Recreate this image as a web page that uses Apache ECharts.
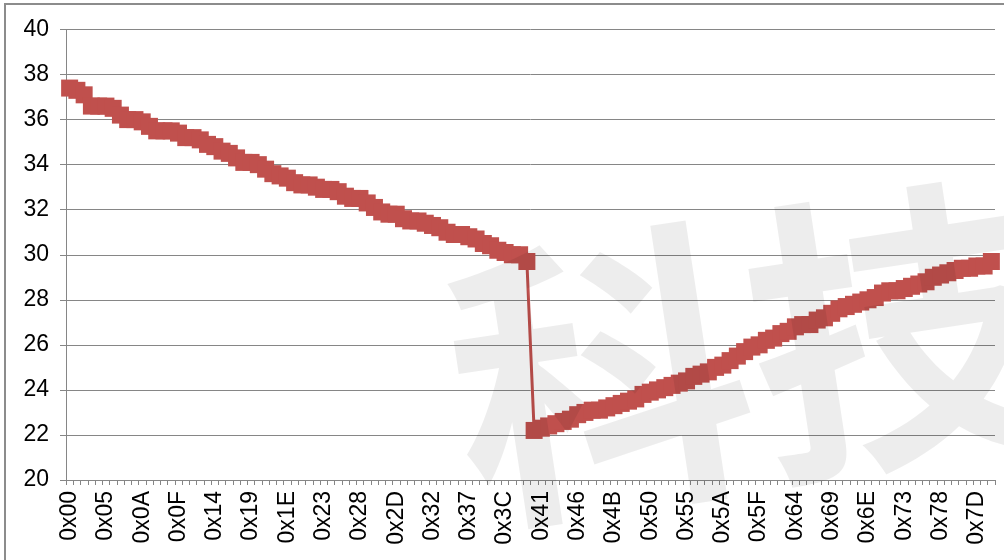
<!DOCTYPE html>
<html>
<head>
<meta charset="utf-8">
<script src="https://cdn.jsdelivr.net/npm/echarts@6/dist/echarts.min.js"></script>
<style>
html,body{margin:0;padding:0;background:#fff;}
#chart{width:1004px;height:560px;}
</style>
</head>
<body>
<div id="chart"></div>
<script>
// Categories 0x00 .. 0x7F
const categories = [];
for (let i = 0; i < 128; i++) {
  categories.push('0x' + i.toString(16).toUpperCase().padStart(2, '0'));
}
const valuesFalling = [
  37.4, 37.3, 37.1, 36.6, 36.6, 36.6, 36.5, 36.2, 36.0, 36.0,
  35.9, 35.7, 35.5, 35.5, 35.5, 35.4, 35.2, 35.2, 35.1, 34.9,
  34.8, 34.6, 34.5, 34.3, 34.1, 34.1, 34.0, 33.8, 33.6, 33.5,
  33.4, 33.2, 33.1, 33.1, 33.0, 32.9, 32.9, 32.8, 32.6, 32.5,
  32.5, 32.3, 32.1, 31.9, 31.8, 31.8, 31.6, 31.5, 31.5, 31.4,
  31.3, 31.2, 31.0, 30.9, 30.9, 30.8, 30.7, 30.5, 30.4, 30.2,
  30.1, 30.0, 30.0, 29.7
];
const valuesRising = [
  22.2, 22.3, 22.4, 22.5, 22.6, 22.7, 22.9, 23.0, 23.1, 23.1,
  23.2, 23.3, 23.4, 23.5, 23.6, 23.8, 23.9, 24.0, 24.1, 24.2,
  24.3, 24.4, 24.6, 24.7, 24.8, 25.0, 25.1, 25.3, 25.5, 25.7,
  25.9, 26.0, 26.2, 26.3, 26.5, 26.6, 26.8, 26.9, 26.9, 27.1,
  27.2, 27.4, 27.6, 27.7, 27.8, 27.9, 28.0, 28.1, 28.3, 28.4,
  28.4, 28.5, 28.6, 28.7, 28.8, 29.0, 29.1, 29.2, 29.3, 29.4,
  29.4, 29.5, 29.5, 29.7
];
const seriesValues = valuesFalling.concat(valuesRising);
const yTicks = { min: 20, max: 40, interval: 2 };
const watermarkText = '科技';

const chart = echarts.init(document.getElementById('chart'), null, { renderer: 'canvas' });
const font = '"Liberation Sans", Arial, sans-serif';
chart.setOption({
  animation: false,
  backgroundColor: '#ffffff',
  grid: { left: 66, right: 9, top: 29.5, bottom: 80, containLabel: false },
  xAxis: {
    type: 'category',
    data: categories,
    boundaryGap: true,
    axisLine: { show: true, lineStyle: { color: '#868686', width: 1 } },
    axisTick: { show: true, interval: 0, length: 5, lineStyle: { color: '#868686' } },
    axisLabel: {
      interval: 4, rotate: 90, fontSize: 23, color: '#000',
      fontFamily: font, margin: 11
    },
    splitLine: { show: false }
  },
  yAxis: {
    type: 'value',
    min: yTicks.min, max: yTicks.max, interval: yTicks.interval,
    axisLine: { show: true, lineStyle: { color: '#868686', width: 1 } },
    axisTick: { show: true, length: 6, lineStyle: { color: '#868686' } },
    axisLabel: { fontSize: 23, color: '#000', fontFamily: font, margin: 17 },
    splitLine: { show: true, lineStyle: { color: '#868686', width: 1 } }
  },
  series: [{
    type: 'line',
    data: seriesValues,
    symbol: 'rect',
    symbolSize: 17,
    showAllSymbol: true,
    lineStyle: { color: '#C0504D', width: 3 },
    itemStyle: { color: '#C0504D', borderWidth: 0 },
    z: 2
  }],
  graphic: [
    {
      type: 'rect', z: 0, silent: true,
      shape: { x: 5, y: 4, width: 1010, height: 600 },
      style: { fill: 'none', stroke: '#8c8c8c', lineWidth: 2 }
    },
    {
      type: 'text', z: 100, silent: true,
      x: 430, y: 250, rotation: 0.15,
      style: {
        text: watermarkText,
        font: 'bold 300px "Noto Sans CJK SC"',
        fill: 'rgba(0,0,0,0.07)'
      }
    }
  ]
});
</script>
</body>
</html>
